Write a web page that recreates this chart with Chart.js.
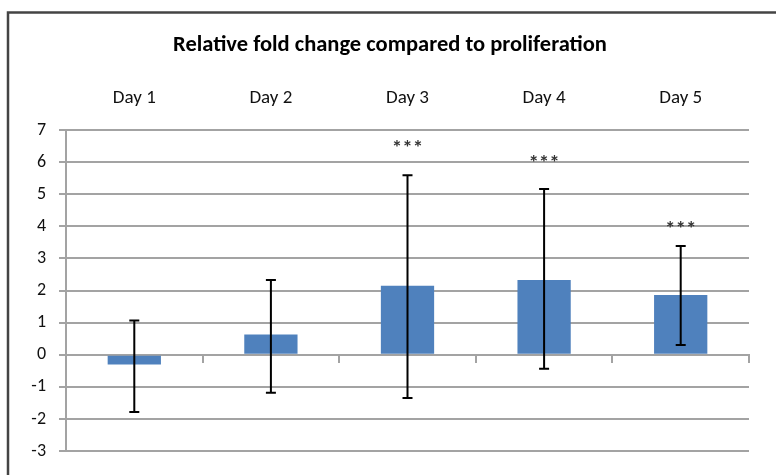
<!DOCTYPE html>
<html>
<head>
<meta charset="utf-8">
<script src="https://cdn.jsdelivr.net/npm/chart.js@4.4.1/dist/chart.umd.min.js"></script>
<style>
  html, body { margin: 0; padding: 0; background: #fff; }
  #wrap { width: 776px; height: 475px; }
</style>
</head>
<body>
<div id="wrap"><canvas id="myChart" width="776" height="475"></canvas></div>
<script>
const days = ['Day 1', 'Day 2', 'Day 3', 'Day 4', 'Day 5'];
const foldChange = [-0.3, 0.63, 2.15, 2.33, 1.86];
const errHigh = [1.07, 2.33, 5.59, 5.16, 3.39];
const errLow = [-1.78, -1.18, -1.34, -0.43, 0.31];
const stars = ['', '', '***', '***', '***'];
const starAt = [null, null, 6.5, 6.05, 4.0];

const FONT = "Carlito, 'Liberation Sans Narrow', 'Liberation Sans', sans-serif";
const gridGray = '#a3a3a3';

// frame around the whole chart (runs off the right/bottom like the source)
const frame = {
  id: 'frame',
  beforeDraw(chart) {
    const c = chart.ctx;
    c.save();
    c.strokeStyle = '#444';
    c.lineWidth = 2.5;
    c.strokeRect(8, 12.5, 800, 500);
    c.restore();
  }
};

// error bars + significance stars
const errorBars = {
  id: 'errorBars',
  afterDatasetsDraw(chart) {
    const c = chart.ctx;
    const y = chart.scales.y;
    const meta = chart.getDatasetMeta(0);
    c.save();
    c.strokeStyle = '#000';
    c.lineWidth = 2;
    meta.data.forEach((bar, i) => {
      const top = y.getPixelForValue(errHigh[i]);
      const bot = y.getPixelForValue(errLow[i]);
      c.beginPath();
      c.moveTo(bar.x, top); c.lineTo(bar.x, bot);
      c.moveTo(bar.x - 5, top); c.lineTo(bar.x + 5, top);
      c.moveTo(bar.x - 5, bot); c.lineTo(bar.x + 5, bot);
      c.stroke();
      if (stars[i]) {
        c.fillStyle = '#333';
        c.font = 'bold 21px ' + FONT;
        c.textAlign = 'center';
        c.textBaseline = 'middle';
        c.fillText(stars[i], bar.x, y.getPixelForValue(starAt[i]) + 3);
      }
    });
    c.restore();
  }
};

const ctx = document.getElementById('myChart');
new Chart(ctx, {
  type: 'bar',
  data: {
    labels: days,
    datasets: [{
      label: 'Relative fold change',
      data: foldChange,
      backgroundColor: '#4f81bd',
      barPercentage: 0.39,
      categoryPercentage: 1
    }]
  },
  options: {
    responsive: false,
    animation: false,
    layout: { padding: { left: 31, right: 27, top: 0, bottom: 23 } },
    scales: {
      x: {
        position: 'top',
        grid: { display: false, drawTicks: false },
        border: { display: false },
        ticks: { color: '#111', padding: 20.6, font: { family: FONT, size: 19 } },
        afterFit(scale) { scale.height = 63.5; }
      },
      x2: {
        type: 'category',
        position: { y: 0 },
        grid: { drawOnChartArea: false, offset: true, tickLength: 7, color: gridGray, lineWidth: 2 },
        border: { display: true, color: gridGray, width: 2 },
        ticks: { display: false }
      },
      y: {
        min: -3,
        max: 7,
        ticks: { stepSize: 1, color: '#111', padding: 13, font: { family: FONT, size: 18 } },
        grid: { color: gridGray, lineWidth: 2, tickLength: 7 },
        border: { display: true, color: gridGray, width: 2 },
        afterFit(scale) { scale.width = 35; }
      }
    },
    plugins: {
      legend: { display: false },
      tooltip: { enabled: false },
      title: {
        display: true,
        text: 'Relative fold change compared to proliferation',
        color: '#000',
        font: { family: FONT, size: 22.5, weight: 'bold' },
        padding: { top: 31.5, bottom: 8 }
      }
    }
  },
  plugins: [frame, errorBars]
});
</script>
</body>
</html>
